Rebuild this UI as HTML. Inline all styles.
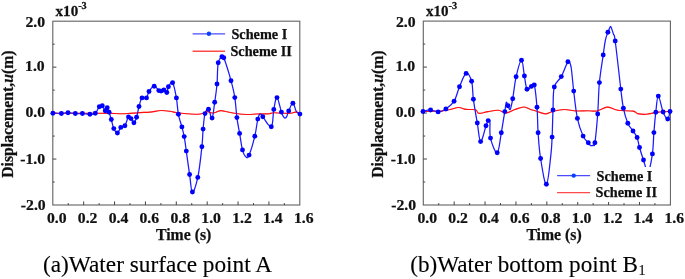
<!DOCTYPE html>
<html><head><meta charset="utf-8"><title>Displacement</title>
<style>
html,body{margin:0;padding:0;background:#fff}
svg{display:block}
text{font-family:"Liberation Serif","Times New Roman",serif;fill:#111}
.b{font-weight:bold;font-size:14px;stroke:#111;stroke-width:0.25px}
.lg{font-size:14.25px}
.t{font-size:15.0px}
.x{font-size:15.75px}
.yl{font-size:15.75px}
.c{font-size:23.3px;fill:#000;stroke:#000;stroke-width:0.12px}
</style></head><body>
<svg width="685" height="279" viewBox="0 0 685 279">
<rect width="685" height="279" fill="#fff"/>
<rect x="52.8" y="21.2" width="247.0" height="183.8" fill="none" stroke="#646464" stroke-width="1.12"/>
<path d="M68.24 205.00v-1.9M83.67 205.00v-3.6M99.11 205.00v-1.9M114.55 205.00v-3.6M129.99 205.00v-1.9M145.43 205.00v-3.6M160.86 205.00v-1.9M176.30 205.00v-3.6M191.74 205.00v-1.9M207.18 205.00v-3.6M222.61 205.00v-1.9M238.05 205.00v-3.6M253.49 205.00v-1.9M268.93 205.00v-3.6M284.36 205.00v-1.9M52.80 44.17h1.9M52.80 67.15h3.6M52.80 90.13h1.9M52.80 113.10h3.6M52.80 136.07h1.9M52.80 159.05h3.6M52.80 182.03h1.9" stroke="#444" stroke-width="1" fill="none"/>
<path fill="none" stroke="#ff1212" stroke-width="1.12" stroke-linejoin="round" d="M53.0 113.2C59.7 113.2 85.9 113.2 95.0 113.2C104.1 113.2 106.0 113.3 110.0 113.4C114.0 113.5 117.1 113.7 120.0 113.7C122.9 113.7 124.8 113.7 128.0 113.5C131.2 113.3 136.5 112.8 140.0 112.6C143.5 112.4 146.6 112.4 150.0 112.1C153.4 111.8 157.8 110.6 161.0 110.5C164.2 110.4 167.3 110.9 170.0 111.3C172.7 111.7 175.1 112.6 178.0 113.0C180.9 113.4 184.8 113.6 188.0 113.8C191.2 114.0 195.4 114.4 198.0 114.3C200.6 114.2 202.6 113.4 204.0 113.0C205.4 112.6 205.7 111.6 207.0 111.6C208.3 111.6 210.6 112.9 212.0 113.0C213.4 113.1 214.6 112.6 216.0 112.2C217.4 111.8 219.1 110.6 221.0 110.6C222.9 110.6 225.6 111.5 228.0 112.0C230.4 112.5 233.0 113.1 236.0 113.5C239.0 113.9 243.8 114.4 247.0 114.5C250.2 114.6 253.6 114.1 256.0 114.0C258.4 113.9 260.4 113.9 262.0 113.9C263.6 113.9 264.8 113.9 266.0 113.9C267.2 113.9 268.1 114.0 269.3 113.8C270.5 113.6 271.6 112.8 273.6 112.7C275.6 112.6 279.2 113.1 282.0 113.2C284.8 113.3 288.9 113.5 291.0 113.3C293.1 113.1 293.8 112.2 295.2 112.1C296.6 112.0 298.8 112.8 299.5 112.9"/>
<path fill="none" stroke="#1a1aff" stroke-width="1.25" stroke-linejoin="round" d="M52.9 113.2C54.4 113.3 58.8 113.6 61.4 113.5C64.0 113.4 65.6 112.8 68.0 112.8C70.4 112.8 72.8 113.4 75.3 113.5C77.8 113.6 79.8 113.4 82.4 113.5C85.0 113.6 87.6 114.4 89.9 114.3C92.2 114.2 93.7 114.5 95.3 113.2C96.9 111.9 98.1 108.0 99.3 106.7C100.5 105.4 101.3 105.0 102.3 105.7C103.3 106.4 104.3 110.4 105.2 110.8C106.1 111.2 106.5 107.6 107.2 107.8C107.9 108.0 108.4 110.2 109.1 112.2C109.8 114.2 110.5 116.6 111.3 119.5C112.1 122.4 112.7 126.2 113.8 128.6C114.9 131.0 116.2 133.2 117.4 133.0C118.6 132.8 119.5 128.7 120.8 127.4C122.1 126.1 123.6 127.5 124.9 125.7C126.2 123.9 127.4 118.1 128.5 116.9C129.6 115.7 130.1 117.6 131.0 118.6C131.9 119.6 132.9 122.9 133.9 122.7C134.9 122.5 135.7 120.0 136.6 117.2C137.5 114.4 138.1 109.9 139.0 106.5C139.9 103.1 140.7 99.4 142.0 97.9C143.3 96.4 145.3 99.0 146.5 97.9C147.7 96.8 147.7 93.5 149.0 91.5C150.3 89.5 152.5 86.4 154.2 86.2C155.9 86.0 157.6 89.7 158.8 90.6C160.0 91.5 160.2 91.2 161.1 91.1C162.0 91.0 162.9 89.8 163.9 90.0C164.9 90.2 166.0 93.1 166.8 92.5C167.6 91.9 167.4 88.4 168.4 86.7C169.4 85.0 171.2 80.7 172.6 82.7C174.0 84.7 175.4 92.4 176.4 97.9C177.4 103.4 177.4 109.2 178.4 114.3C179.4 119.4 180.9 123.0 181.9 126.9C182.9 130.8 183.4 132.4 184.2 136.6C185.0 140.8 185.4 144.5 186.3 151.1C187.2 157.7 188.5 167.3 189.6 174.5C190.7 181.7 191.0 191.5 192.4 192.0C193.8 192.5 196.1 185.3 197.8 177.4C199.5 169.5 201.0 155.2 201.9 146.7C202.8 138.2 202.6 134.9 203.1 129.1C203.6 123.3 204.1 117.1 205.0 113.6C205.9 110.1 207.3 108.4 208.5 109.2C209.7 110.0 211.0 119.3 212.1 118.1C213.2 116.9 213.8 108.3 214.7 102.3C215.6 96.3 216.4 90.9 217.0 84.0C217.6 77.1 217.3 67.6 218.2 62.8C219.1 58.0 220.9 57.6 221.9 56.7C222.9 55.8 222.2 53.6 223.8 57.8C225.4 62.0 229.1 73.7 231.0 80.7C232.9 87.7 233.8 91.1 234.8 97.6C235.8 104.1 236.1 111.3 236.9 117.6C237.7 123.9 238.6 127.7 239.6 133.4C240.6 139.1 241.4 145.8 242.5 149.9C243.6 154.0 244.8 156.1 246.0 157.0C247.2 157.9 247.6 158.7 249.1 155.1C250.6 151.5 253.3 142.5 254.8 136.2C256.3 129.9 256.9 123.0 257.8 119.1C258.7 115.2 259.3 114.3 260.2 113.9C261.1 113.5 260.9 114.6 262.8 116.8C264.7 119.0 269.4 128.0 271.3 126.7C273.2 125.4 272.8 114.5 273.8 109.4C274.8 104.3 275.7 97.1 277.0 97.6C278.3 98.1 280.3 108.8 281.4 112.1C282.5 115.4 282.8 115.6 283.4 116.6C284.0 117.6 284.4 118.0 285.0 118.0C285.6 118.0 286.2 117.6 286.8 116.4C287.4 115.2 287.6 113.2 288.7 110.9C289.8 108.6 291.6 103.1 292.9 103.2C294.2 103.3 295.0 109.3 296.2 111.2C297.4 113.1 299.3 113.6 299.9 114.1"/>
<path stroke-opacity="0.4" fill="none" stroke="#ff1212" stroke-width="1.12" stroke-linejoin="round" d="M53.0 113.2C59.7 113.2 85.9 113.2 95.0 113.2C104.1 113.2 106.0 113.3 110.0 113.4C114.0 113.5 117.1 113.7 120.0 113.7C122.9 113.7 124.8 113.7 128.0 113.5C131.2 113.3 136.5 112.8 140.0 112.6C143.5 112.4 146.6 112.4 150.0 112.1C153.4 111.8 157.8 110.6 161.0 110.5C164.2 110.4 167.3 110.9 170.0 111.3C172.7 111.7 175.1 112.6 178.0 113.0C180.9 113.4 184.8 113.6 188.0 113.8C191.2 114.0 195.4 114.4 198.0 114.3C200.6 114.2 202.6 113.4 204.0 113.0C205.4 112.6 205.7 111.6 207.0 111.6C208.3 111.6 210.6 112.9 212.0 113.0C213.4 113.1 214.6 112.6 216.0 112.2C217.4 111.8 219.1 110.6 221.0 110.6C222.9 110.6 225.6 111.5 228.0 112.0C230.4 112.5 233.0 113.1 236.0 113.5C239.0 113.9 243.8 114.4 247.0 114.5C250.2 114.6 253.6 114.1 256.0 114.0C258.4 113.9 260.4 113.9 262.0 113.9C263.6 113.9 264.8 113.9 266.0 113.9C267.2 113.9 268.1 114.0 269.3 113.8C270.5 113.6 271.6 112.8 273.6 112.7C275.6 112.6 279.2 113.1 282.0 113.2C284.8 113.3 288.9 113.5 291.0 113.3C293.1 113.1 293.8 112.2 295.2 112.1C296.6 112.0 298.8 112.8 299.5 112.9"/>
<g fill="#0000ff"><circle cx="52.9" cy="113.2" r="2.45"/><circle cx="61.4" cy="113.5" r="2.45"/><circle cx="68.0" cy="112.8" r="2.45"/><circle cx="75.3" cy="113.5" r="2.45"/><circle cx="82.4" cy="113.5" r="2.45"/><circle cx="89.9" cy="114.3" r="2.45"/><circle cx="95.3" cy="113.2" r="2.45"/><circle cx="99.3" cy="106.7" r="2.45"/><circle cx="102.3" cy="105.7" r="2.45"/><circle cx="105.2" cy="110.8" r="2.45"/><circle cx="107.2" cy="107.8" r="2.45"/><circle cx="109.1" cy="112.2" r="2.45"/><circle cx="111.3" cy="119.5" r="2.45"/><circle cx="113.8" cy="128.6" r="2.45"/><circle cx="117.4" cy="133.0" r="2.45"/><circle cx="120.8" cy="127.4" r="2.45"/><circle cx="124.9" cy="125.7" r="2.45"/><circle cx="128.5" cy="116.9" r="2.45"/><circle cx="131.0" cy="118.6" r="2.45"/><circle cx="133.9" cy="122.7" r="2.45"/><circle cx="136.6" cy="117.2" r="2.45"/><circle cx="139.0" cy="106.5" r="2.45"/><circle cx="142.0" cy="97.9" r="2.45"/><circle cx="146.5" cy="97.9" r="2.45"/><circle cx="149.0" cy="91.5" r="2.45"/><circle cx="154.2" cy="86.2" r="2.45"/><circle cx="158.8" cy="90.6" r="2.45"/><circle cx="161.1" cy="91.1" r="2.45"/><circle cx="163.9" cy="90.0" r="2.45"/><circle cx="166.8" cy="92.5" r="2.45"/><circle cx="168.4" cy="86.7" r="2.45"/><circle cx="172.6" cy="82.7" r="2.45"/><circle cx="176.4" cy="97.9" r="2.45"/><circle cx="178.4" cy="114.3" r="2.45"/><circle cx="181.9" cy="126.9" r="2.45"/><circle cx="184.2" cy="136.6" r="2.45"/><circle cx="186.3" cy="151.1" r="2.45"/><circle cx="189.6" cy="174.5" r="2.45"/><circle cx="192.4" cy="192.0" r="2.45"/><circle cx="197.8" cy="177.4" r="2.45"/><circle cx="201.9" cy="146.7" r="2.45"/><circle cx="203.1" cy="129.1" r="2.45"/><circle cx="205.0" cy="113.6" r="2.45"/><circle cx="208.5" cy="109.2" r="2.45"/><circle cx="212.1" cy="118.1" r="2.45"/><circle cx="214.7" cy="102.3" r="2.45"/><circle cx="217.0" cy="84.0" r="2.45"/><circle cx="218.2" cy="62.8" r="2.45"/><circle cx="221.9" cy="56.7" r="2.45"/><circle cx="223.8" cy="57.8" r="2.45"/><circle cx="231.0" cy="80.7" r="2.45"/><circle cx="234.8" cy="97.6" r="2.45"/><circle cx="236.9" cy="117.6" r="2.45"/><circle cx="239.6" cy="133.4" r="2.45"/><circle cx="242.5" cy="149.9" r="2.45"/><circle cx="249.1" cy="155.1" r="2.45"/><circle cx="254.8" cy="136.2" r="2.45"/><circle cx="257.8" cy="119.1" r="2.45"/><circle cx="262.8" cy="116.8" r="2.45"/><circle cx="271.3" cy="126.7" r="2.45"/><circle cx="273.8" cy="109.4" r="2.45"/><circle cx="277.0" cy="97.6" r="2.45"/><circle cx="281.4" cy="112.1" r="2.45"/><circle cx="288.7" cy="110.9" r="2.45"/><circle cx="292.9" cy="103.2" r="2.45"/><circle cx="299.9" cy="114.1" r="2.45"/></g>
<line x1="192.6" x2="225.1" y1="33.8" y2="33.8" stroke="#4a4aff" stroke-width="1.35"/>
<circle cx="208.9" cy="33.8" r="2.2" fill="#0840ff"/>
<line x1="192.6" x2="225.1" y1="51.2" y2="51.2" stroke="#ff4a4a" stroke-width="1.35"/>
<text x="231.4" y="38.7" class="b lg">Scheme I</text>
<text x="230.4" y="56.0" class="b lg">Scheme II</text>
<text transform="translate(56.7,222.7) scale(1.047,1)" class="b t" text-anchor="middle">0.0</text>
<text transform="translate(87.6,222.7) scale(1.047,1)" class="b t" text-anchor="middle">0.2</text>
<text transform="translate(118.5,222.7) scale(1.047,1)" class="b t" text-anchor="middle">0.4</text>
<text transform="translate(149.3,222.7) scale(1.047,1)" class="b t" text-anchor="middle">0.6</text>
<text transform="translate(180.2,222.7) scale(1.047,1)" class="b t" text-anchor="middle">0.8</text>
<text transform="translate(211.1,222.7) scale(1.047,1)" class="b t" text-anchor="middle">1.0</text>
<text transform="translate(242.0,222.7) scale(1.047,1)" class="b t" text-anchor="middle">1.2</text>
<text transform="translate(272.8,222.7) scale(1.047,1)" class="b t" text-anchor="middle">1.4</text>
<text transform="translate(303.7,222.7) scale(1.047,1)" class="b t" text-anchor="middle">1.6</text>
<text transform="translate(45.1,26.5) scale(1.047,1)" class="b t" text-anchor="end">2.0</text>
<text transform="translate(44.7,71.2) scale(1.047,1)" class="b t" text-anchor="end">1.0</text>
<text transform="translate(45.0,117.3) scale(1.047,1)" class="b t" text-anchor="end">0.0</text>
<text transform="translate(45.1,164.3) scale(1.047,1)" class="b t" text-anchor="end">-1.0</text>
<text transform="translate(45.7,209.7) scale(1.047,1)" class="b t" text-anchor="end">-2.0</text>
<text transform="translate(55.6,15.5) scale(1.03,1)" class="b t" style="font-size:14.6px">x10<tspan dy="-6.4" font-size="10">-3</tspan></text>
<text x="156.0" y="239.5" class="b x">Time (s)</text>
<text transform="translate(13.0,177.8) rotate(-90)" class="b yl">Displacement,<tspan font-style="italic">u</tspan>(m)</text>
<text x="43.0" y="272.3" class="c">(a)Water surface point A</text>
<rect x="423.3" y="21.1" width="247.1" height="183.9" fill="none" stroke="#646464" stroke-width="1.12"/>
<path d="M438.74 205.00v-1.9M454.18 205.00v-3.6M469.62 205.00v-1.9M485.06 205.00v-3.6M500.50 205.00v-1.9M515.94 205.00v-3.6M531.38 205.00v-1.9M546.83 205.00v-3.6M562.27 205.00v-1.9M577.71 205.00v-3.6M593.15 205.00v-1.9M608.59 205.00v-3.6M624.03 205.00v-1.9M639.47 205.00v-3.6M654.91 205.00v-1.9M423.30 44.09h1.9M423.30 67.08h3.6M423.30 90.06h1.9M423.30 113.05h3.6M423.30 136.04h1.9M423.30 159.03h3.6M423.30 182.01h1.9" stroke="#444" stroke-width="1" fill="none"/>
<path fill="none" stroke="#ff1212" stroke-width="1.12" stroke-linejoin="round" d="M423.0 111.5C424.4 111.5 429.0 111.4 432.0 111.3C435.0 111.2 439.1 111.3 442.0 111.0C444.9 110.7 447.3 110.1 450.0 109.5C452.7 108.9 456.2 107.5 458.8 107.5C461.4 107.5 463.3 109.0 466.0 109.4C468.7 109.8 473.6 109.1 475.6 109.7C477.6 110.3 476.8 113.1 478.8 113.4C480.8 113.7 484.9 112.1 488.0 111.6C491.1 111.1 495.4 110.1 498.3 110.3C501.2 110.5 503.6 113.0 506.3 112.9C509.0 112.8 512.2 110.4 515.0 109.5C517.8 108.6 521.2 107.0 523.6 107.0C526.0 107.0 527.9 108.5 530.0 109.2C532.1 109.9 534.0 110.4 536.5 111.2C539.0 112.0 542.8 113.9 545.4 113.9C548.0 113.9 549.6 112.2 552.6 111.5C555.6 110.8 560.3 109.6 564.0 109.5C567.7 109.4 572.2 110.7 576.0 110.9C579.8 111.1 584.2 110.7 587.6 110.7C591.0 110.7 593.9 111.6 597.0 111.0C600.1 110.4 604.2 107.4 607.0 107.1C609.8 106.8 612.1 108.7 614.2 109.2C616.3 109.7 617.0 110.2 620.0 110.5C623.0 110.8 630.4 110.6 633.2 111.1C636.0 111.6 635.5 113.1 637.6 113.6C639.7 114.1 643.0 114.5 646.3 114.3C649.6 114.1 654.3 112.6 658.0 112.1C661.7 111.6 667.8 111.5 669.7 111.4"/>
<path fill="none" stroke="#1a1aff" stroke-width="1.25" stroke-linejoin="round" d="M423.0 111.5C424.3 111.2 428.0 109.9 430.6 110.0C433.2 110.1 435.4 112.1 438.1 111.9C440.8 111.7 443.1 110.9 445.9 109.0C448.7 107.1 451.7 105.1 454.1 101.2C456.5 97.3 457.4 91.6 459.5 86.7C461.6 81.8 464.0 74.4 466.1 73.4C468.2 72.4 470.3 76.7 471.6 81.2C472.9 85.7 472.4 92.0 473.4 99.3C474.4 106.6 476.0 115.6 477.3 123.0C478.6 130.4 479.1 141.1 480.6 141.6C482.1 142.1 484.7 129.4 486.0 125.7C487.3 122.0 487.5 121.3 488.2 120.6C488.9 119.9 489.5 118.7 489.9 121.8C490.3 124.9 489.2 132.7 490.5 138.1C491.8 143.5 495.3 153.6 497.2 152.7C499.1 151.8 500.0 140.0 501.3 132.8C502.6 125.6 503.9 116.9 504.8 111.6C505.7 106.3 505.7 103.3 506.3 102.3C506.9 101.3 507.3 104.6 508.0 105.8C508.7 107.0 509.4 110.5 510.2 109.3C511.0 108.1 511.7 104.5 512.7 98.8C513.7 93.1 514.6 83.5 516.1 76.8C517.6 70.1 520.0 60.4 521.5 60.3C523.0 60.2 523.4 70.9 524.4 76.0C525.4 81.1 525.8 87.5 527.0 89.3C528.2 91.1 530.1 87.2 531.4 86.4C532.7 85.6 533.3 81.3 534.3 84.9C535.3 88.5 536.3 98.8 537.0 107.2C537.7 115.6 537.5 123.7 538.1 132.7C538.7 141.7 539.1 149.5 540.6 158.5C542.1 167.5 544.6 185.0 546.4 184.3C548.2 183.6 549.9 162.9 550.9 154.6C551.9 146.3 551.7 144.9 552.1 137.1C552.5 129.3 552.6 118.8 553.0 110.0C553.4 101.2 552.8 92.8 554.3 87.0C555.8 81.2 558.9 81.0 561.3 76.6C563.7 72.2 566.3 63.8 567.9 61.8C569.5 59.8 570.0 63.0 570.7 65.2C571.4 67.4 571.5 70.0 572.0 74.5C572.5 79.0 572.8 83.4 573.7 91.1C574.6 98.8 575.8 110.5 577.4 118.4C579.0 126.3 581.2 131.8 583.1 136.1C585.0 140.4 587.1 141.3 588.3 142.8C589.5 144.3 589.3 144.4 589.9 144.9C590.5 145.4 591.0 145.6 591.6 145.6C592.2 145.6 592.7 145.4 593.3 144.9C593.9 144.4 594.1 148.2 594.9 142.8C595.7 137.4 596.9 124.5 597.7 114.0C598.5 103.5 598.4 92.9 599.4 82.6C600.4 72.3 602.2 62.4 603.2 55.0C604.2 47.6 604.6 44.2 605.4 40.2C606.2 36.2 607.2 34.2 607.9 32.2C608.6 30.2 608.9 29.6 609.4 28.6C609.9 27.6 610.1 26.2 610.5 26.3C611.0 26.4 611.2 27.5 611.7 28.9C612.2 30.3 612.9 32.2 613.5 34.3C614.1 36.4 613.9 31.4 615.2 41.0C616.5 50.6 619.4 77.3 620.8 89.1C622.2 100.9 622.2 102.2 623.4 108.2C624.6 114.2 626.1 119.2 627.8 123.2C629.5 127.2 631.4 128.5 633.0 131.0C634.6 133.5 636.0 134.6 637.1 137.5C638.2 140.4 638.4 143.6 639.5 147.5C640.6 151.4 642.0 155.7 643.5 160.0C645.0 164.3 646.4 173.1 648.0 172.0C649.6 170.9 651.4 160.8 652.4 153.9C653.4 147.0 653.3 139.9 653.9 132.6C654.5 125.3 655.0 118.6 655.8 112.2C656.6 105.8 657.0 96.1 658.3 96.1C659.6 96.1 661.5 108.0 663.1 112.0C664.7 116.0 666.5 119.1 667.7 119.0C668.9 118.9 669.6 112.8 670.0 111.5"/>
<path stroke-opacity="0.4" fill="none" stroke="#ff1212" stroke-width="1.12" stroke-linejoin="round" d="M423.0 111.5C424.4 111.5 429.0 111.4 432.0 111.3C435.0 111.2 439.1 111.3 442.0 111.0C444.9 110.7 447.3 110.1 450.0 109.5C452.7 108.9 456.2 107.5 458.8 107.5C461.4 107.5 463.3 109.0 466.0 109.4C468.7 109.8 473.6 109.1 475.6 109.7C477.6 110.3 476.8 113.1 478.8 113.4C480.8 113.7 484.9 112.1 488.0 111.6C491.1 111.1 495.4 110.1 498.3 110.3C501.2 110.5 503.6 113.0 506.3 112.9C509.0 112.8 512.2 110.4 515.0 109.5C517.8 108.6 521.2 107.0 523.6 107.0C526.0 107.0 527.9 108.5 530.0 109.2C532.1 109.9 534.0 110.4 536.5 111.2C539.0 112.0 542.8 113.9 545.4 113.9C548.0 113.9 549.6 112.2 552.6 111.5C555.6 110.8 560.3 109.6 564.0 109.5C567.7 109.4 572.2 110.7 576.0 110.9C579.8 111.1 584.2 110.7 587.6 110.7C591.0 110.7 593.9 111.6 597.0 111.0C600.1 110.4 604.2 107.4 607.0 107.1C609.8 106.8 612.1 108.7 614.2 109.2C616.3 109.7 617.0 110.2 620.0 110.5C623.0 110.8 630.4 110.6 633.2 111.1C636.0 111.6 635.5 113.1 637.6 113.6C639.7 114.1 643.0 114.5 646.3 114.3C649.6 114.1 654.3 112.6 658.0 112.1C661.7 111.6 667.8 111.5 669.7 111.4"/>
<g fill="#0000ff"><circle cx="423.0" cy="111.5" r="2.45"/><circle cx="430.6" cy="110.0" r="2.45"/><circle cx="438.1" cy="111.9" r="2.45"/><circle cx="445.9" cy="109.0" r="2.45"/><circle cx="454.1" cy="101.2" r="2.45"/><circle cx="459.5" cy="86.7" r="2.45"/><circle cx="466.1" cy="73.4" r="2.45"/><circle cx="471.6" cy="81.2" r="2.45"/><circle cx="473.4" cy="99.3" r="2.45"/><circle cx="477.3" cy="123.0" r="2.45"/><circle cx="480.6" cy="141.6" r="2.45"/><circle cx="486.0" cy="125.7" r="2.45"/><circle cx="488.2" cy="120.6" r="2.45"/><circle cx="490.5" cy="138.1" r="2.45"/><circle cx="497.2" cy="152.7" r="2.45"/><circle cx="501.3" cy="132.8" r="2.45"/><circle cx="504.8" cy="111.6" r="2.45"/><circle cx="508.0" cy="105.8" r="2.45"/><circle cx="512.7" cy="98.8" r="2.45"/><circle cx="516.1" cy="76.8" r="2.45"/><circle cx="521.5" cy="60.3" r="2.45"/><circle cx="524.4" cy="76.0" r="2.45"/><circle cx="527.0" cy="89.3" r="2.45"/><circle cx="531.4" cy="86.4" r="2.45"/><circle cx="534.3" cy="84.9" r="2.45"/><circle cx="537.0" cy="107.2" r="2.45"/><circle cx="538.1" cy="132.7" r="2.45"/><circle cx="540.6" cy="158.5" r="2.45"/><circle cx="546.4" cy="184.3" r="2.45"/><circle cx="552.1" cy="137.1" r="2.45"/><circle cx="553.0" cy="110.0" r="2.45"/><circle cx="554.3" cy="87.0" r="2.45"/><circle cx="561.3" cy="76.6" r="2.45"/><circle cx="567.9" cy="61.8" r="2.45"/><circle cx="573.7" cy="91.1" r="2.45"/><circle cx="577.4" cy="118.4" r="2.45"/><circle cx="583.1" cy="136.1" r="2.45"/><circle cx="588.3" cy="142.8" r="2.45"/><circle cx="594.9" cy="142.8" r="2.45"/><circle cx="597.7" cy="114.0" r="2.45"/><circle cx="599.4" cy="82.6" r="2.45"/><circle cx="603.2" cy="55.0" r="2.45"/><circle cx="607.9" cy="32.2" r="2.45"/><circle cx="615.2" cy="41.0" r="2.45"/><circle cx="620.8" cy="89.1" r="2.45"/><circle cx="623.4" cy="108.2" r="2.45"/><circle cx="627.8" cy="123.2" r="2.45"/><circle cx="633.0" cy="131.0" r="2.45"/><circle cx="637.1" cy="137.5" r="2.45"/><circle cx="639.5" cy="147.5" r="2.45"/><circle cx="643.5" cy="160.0" r="2.45"/><circle cx="648.0" cy="172.0" r="2.45"/><circle cx="652.4" cy="153.9" r="2.45"/><circle cx="653.9" cy="132.6" r="2.45"/><circle cx="655.8" cy="112.2" r="2.45"/><circle cx="658.3" cy="96.1" r="2.45"/><circle cx="663.1" cy="112.0" r="2.45"/><circle cx="667.7" cy="119.0" r="2.45"/><circle cx="670.0" cy="111.5" r="2.45"/></g>
<rect x="553.4" y="167" width="116.0" height="35" fill="#fff"/>
<line x1="557.1" x2="590.1" y1="175.6" y2="175.6" stroke="#4a4aff" stroke-width="1.35"/>
<circle cx="573.7" cy="175.6" r="2.2" fill="#0840ff"/>
<line x1="557.1" x2="590.1" y1="192.6" y2="192.6" stroke="#ff4a4a" stroke-width="1.35"/>
<text x="596.6" y="180.5" class="b lg">Scheme I</text>
<text x="595.6" y="197.4" class="b lg">Scheme II</text>
<text transform="translate(427.2,222.7) scale(1.047,1)" class="b t" text-anchor="middle">0.0</text>
<text transform="translate(458.1,222.7) scale(1.047,1)" class="b t" text-anchor="middle">0.2</text>
<text transform="translate(489.0,222.7) scale(1.047,1)" class="b t" text-anchor="middle">0.4</text>
<text transform="translate(519.8,222.7) scale(1.047,1)" class="b t" text-anchor="middle">0.6</text>
<text transform="translate(550.7,222.7) scale(1.047,1)" class="b t" text-anchor="middle">0.8</text>
<text transform="translate(581.6,222.7) scale(1.047,1)" class="b t" text-anchor="middle">1.0</text>
<text transform="translate(612.5,222.7) scale(1.047,1)" class="b t" text-anchor="middle">1.2</text>
<text transform="translate(643.4,222.7) scale(1.047,1)" class="b t" text-anchor="middle">1.4</text>
<text transform="translate(674.2,222.7) scale(1.047,1)" class="b t" text-anchor="middle">1.6</text>
<text transform="translate(415.5,26.5) scale(1.047,1)" class="b t" text-anchor="end">2.0</text>
<text transform="translate(415.1,71.2) scale(1.047,1)" class="b t" text-anchor="end">1.0</text>
<text transform="translate(415.4,117.3) scale(1.047,1)" class="b t" text-anchor="end">0.0</text>
<text transform="translate(415.5,164.3) scale(1.047,1)" class="b t" text-anchor="end">-1.0</text>
<text transform="translate(416.1,209.7) scale(1.047,1)" class="b t" text-anchor="end">-2.0</text>
<text transform="translate(426.0,15.5) scale(1.03,1)" class="b t" style="font-size:14.6px">x10<tspan dy="-6.4" font-size="10">-3</tspan></text>
<text x="526.4" y="239.5" class="b x">Time (s)</text>
<text transform="translate(383.4,177.8) rotate(-90)" class="b yl">Displacement,<tspan font-style="italic">u</tspan>(m)</text>
<text x="410.3" y="272.3" class="c" style="font-size:23.15px">(b)Water bottom point B<tspan dy="2.3" dx="0.6" font-size="14">1</tspan></text>
</svg>
</body></html>
